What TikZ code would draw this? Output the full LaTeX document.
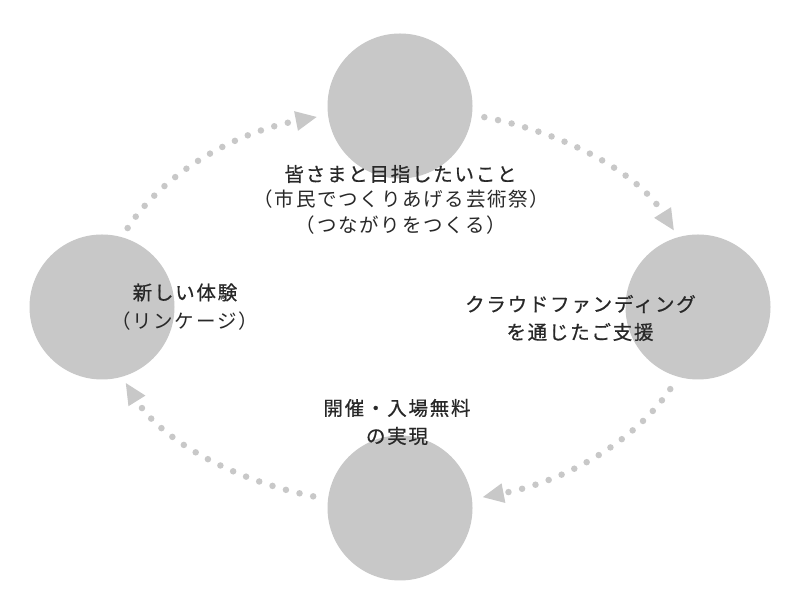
\documentclass[tikz,border=0pt]{standalone}
\usepackage{fontspec}
\usetikzlibrary{arrows.meta}
\newfontfamily\jpr[LetterSpace=9]{Noto Sans CJK JP}
\newfontfamily\jpm[LetterSpace=9,FakeBold=0.6]{Noto Sans CJK JP}
\definecolor{circ}{RGB}{200,200,200}
\definecolor{txt}{RGB}{40,40,40}
\begin{document}
\begin{tikzpicture}[x=1pt,y=1pt,
  blob/.style={circle,fill=circ,minimum size=145pt,inner sep=0pt},
  lbl/.style={text=txt,font=\jpm\fontsize{19.5}{22}\selectfont,inner sep=0pt},
  sublbl/.style={text=txt,font=\jpr\fontsize{19.5}{22}\selectfont,inner sep=0pt},
  flow/.style={draw=circ,line width=6.5pt,line cap=round,dash pattern=on 0pt off 14pt,
    -{Triangle[length=21pt,width=20pt,line width=0pt]}}]
\useasboundingbox[fill=white] (0,0) rectangle (800,612);
% circles
\node[blob] (ctop) at (400,506) {};
\node[blob] (cright) at (698,305) {};
\node[blob] (cbot) at (400,104) {};
\node[blob] (cleft) at (102,305) {};
% cycle arrows on the ellipse through the circle centres
\coordinate (ctr) at (400,305);
\draw[flow] (ctr) ++(156.5:297pt and 198pt) arc[start angle=156.5,end angle=106.3,x radius=297pt,y radius=198pt];
\draw[flow] (ctr) ++(73.5:297pt and 198pt) arc[start angle=73.5,end angle=22.8,x radius=297pt,y radius=198pt];
\draw[flow] (ctr) ++(-24.5:297pt and 198pt) arc[start angle=-24.5,end angle=-73.8,x radius=297pt,y radius=198pt];
\draw[flow] (ctr) ++(-107:297pt and 198pt) arc[start angle=-107,end angle=-157.4,x radius=297pt,y radius=198pt];
% labels
\node[lbl] (top1) at (400.5,438) {皆さまと目指したいこと};
\node[sublbl] (top2) at (401.5,413) {（市民でつくりあげる芸術祭）};
\node[sublbl] (top3) at (401,387) {（つながりをつくる）};
\node[lbl] (left1) at (185,319.5) {新しい体験};
\node[sublbl] (left2) at (184.5,291) {（リンケージ）};
\node[lbl] (right1) at (580.5,308) {クラウドファンディング};
\node[lbl] (right2) at (580,280) {を通じたご支援};
\node[lbl] (bot1) at (397,204) {開催・入場無料};
\node[lbl] (bot2) at (397,176) {の実現};
\end{tikzpicture}
\end{document}
